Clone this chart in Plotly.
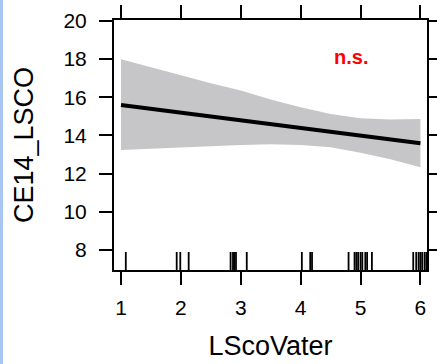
import plotly.graph_objects as go

# Fitted line (endpoints)
fit_x = [1, 6]
fit_y = [15.6, 13.59]

# Confidence band read at x = 1, 1.5, ..., 6
band_x = [1, 1.5, 2, 2.5, 3, 3.5, 4, 4.5, 5, 5.5, 6]
band_upper = [17.99, 17.57, 17.13, 16.73, 16.35, 15.89, 15.48, 15.13, 14.90, 14.83, 14.86]
band_lower = [13.24, 13.31, 13.38, 13.45, 13.50, 13.54, 13.50, 13.38, 13.10, 12.75, 12.33]

# Rug positions (jittered LScoVater values)
rug_x = [1.08, 1.93, 1.99, 2.13, 2.83, 2.87, 2.89, 2.92, 3.10, 4.02, 4.16, 4.19,
         4.80, 4.90, 4.93, 4.96, 5.00, 5.03, 5.08, 5.11, 5.19,
         5.88, 5.93, 5.97, 6.00, 6.03, 6.07, 6.10]

x_ticks = [1, 2, 3, 4, 5, 6]
y_ticks = [8, 10, 12, 14, 16, 18, 20]

FONT = "Liberation Sans, Arial, sans-serif"

fig = go.Figure()
fig.add_trace(go.Scatter(x=band_x, y=band_upper, mode="lines",
                         line=dict(width=0, color="#c6c5c8"), hoverinfo="skip",
                         showlegend=False))
fig.add_trace(go.Scatter(x=band_x, y=band_lower, mode="lines",
                         line=dict(width=0, color="#c6c5c8"), fill="tonexty",
                         fillcolor="#c6c5c8", hoverinfo="skip", showlegend=False))
fig.add_trace(go.Scatter(x=fit_x, y=fit_y, mode="lines",
                         line=dict(color="black", width=4), showlegend=False))

shapes = []
for v in rug_x:
    shapes.append(dict(type="line", xref="x", yref="y domain", x0=v, x1=v,
                       y0=0, y1=0.072, line=dict(color="black", width=1.8)))
# light blue strip at the far left of the image
shapes.append(dict(type="rect", xref="paper", yref="paper",
                   x0=-114 / 313, x1=-111 / 313, y0=-94 / 250, y1=1 + 20 / 250,
                   line=dict(width=0), fillcolor="#a9c6f2"))

fig.update_layout(
    template="none",
    width=437, height=364,
    margin=dict(l=114, r=10, t=20, b=94),
    paper_bgcolor="white", plot_bgcolor="white",
    font=dict(family=FONT, color="black"),
    shapes=shapes,
    xaxis=dict(range=[0.883, 6.11], tickvals=x_ticks, ticktext=[str(t) for t in x_ticks],
               automargin=False,
               showline=True, linecolor="black", linewidth=2, mirror="ticks",
               ticks="outside", ticklen=13, tickwidth=2, tickcolor="black",
               showgrid=False, zeroline=False, tickfont=dict(size=21),
               ticklabelstandoff=5,
               title=dict(text="LScoVater", font=dict(size=27), standoff=18)),
    yaxis=dict(range=[6.95, 20.05], tickvals=y_ticks, ticktext=[str(t) for t in y_ticks],
               automargin=False,
               showline=True, linecolor="black", linewidth=2, mirror="ticks",
               ticks="outside", ticklen=13, tickwidth=2, tickcolor="black",
               showgrid=False, zeroline=False, tickfont=dict(size=21),
               ticklabelstandoff=8,
               title=dict(text="CE14_LSCO", font=dict(size=27), standoff=22)),
    annotations=[dict(x=4.84, y=18.1, xref="x", yref="y", text="<b>n.s.</b>",
                      showarrow=False, font=dict(size=20, color="#ff0000", family=FONT))],
)

fig.write_html("out.html")
